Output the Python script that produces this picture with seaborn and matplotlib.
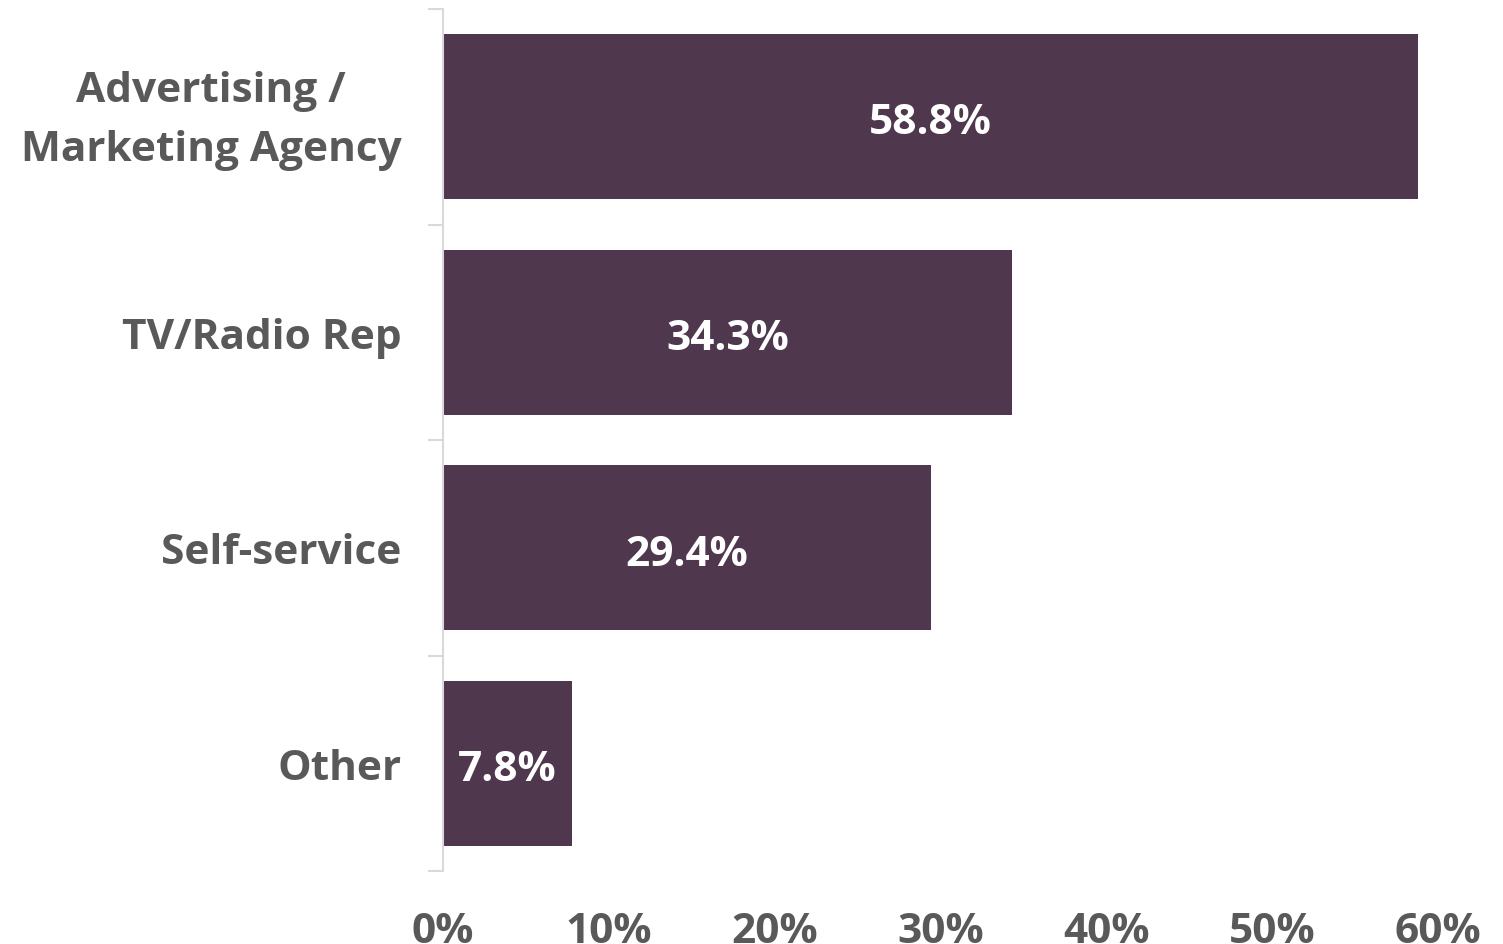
import matplotlib
matplotlib.use("Agg")
import matplotlib.pyplot as plt
from matplotlib.ticker import FixedLocator
from matplotlib.transforms import ScaledTranslation
import seaborn as sns
import pandas as pd

categories = ["Advertising /\nMarketing Agency", "TV/Radio Rep", "Self-service", "Other"]
shares = [58.8, 34.3, 29.4, 7.8]
x_ticks = [0, 10, 20, 30, 40, 50, 60]
x_tick_labels = ["0%", "10%", "20%", "30%", "40%", "50%", "60%"]

BAR_COLOR = "#4F374D"
TEXT_COLOR = "#595959"
AXIS_COLOR = "#D9D9D9"
FONT_SIZE = 30.5

sns.set_style("white")
plt.rcParams["font.family"] = ["Open Sans", "DejaVu Sans"]
plt.rcParams["font.weight"] = "bold"

df = pd.DataFrame({"category": categories, "share": shares})

fig = plt.figure(figsize=(15.03, 9.45), dpi=100)
ax = fig.add_axes([443 / 1503, 1 - 872 / 945, (1438 - 443) / 1503, (872 - 10) / 945])

sns.barplot(data=df, x="share", y="category", orient="h", color=BAR_COLOR,
            width=0.766, saturation=1, ax=ax, linewidth=0)

# value labels centred inside each bar
for patch, val in zip(ax.patches, shares):
    cx = patch.get_x() + patch.get_width() / 2
    cy = patch.get_y() + patch.get_height() / 2
    ax.annotate(f"{val:.1f}%", xy=(cx, cy), xytext=(0, -4.5), textcoords="offset points",
                ha="center", va="center", color="white",
                fontsize=FONT_SIZE, fontweight="bold")

ax.set_xlim(0, 60)
ax.set_ylim(len(categories) - 0.5, -0.5)
ax.set_xlabel("")
ax.set_ylabel("")

ax.set_xticks(x_ticks)
ax.set_xticklabels(x_tick_labels, fontsize=FONT_SIZE, fontweight="bold", color=TEXT_COLOR)
ax.tick_params(axis="x", length=0, pad=29)

ax.set_yticks(range(len(categories)))
ax.set_yticklabels(categories, fontsize=FONT_SIZE, fontweight="bold", color=TEXT_COLOR,
                   multialignment="center", linespacing=1.56)
ax.tick_params(axis="y", which="major", length=0, pad=30)
ax.yaxis.set_minor_locator(FixedLocator([i - 0.5 for i in range(len(categories) + 1)]))
ax.tick_params(axis="y", which="minor", length=11, width=1.5, color=AXIS_COLOR, left=True)

# two-line labels: centre the text block on the bar rather than its descent box
for lbl in ax.get_yticklabels():
    if "\n" in lbl.get_text():
        lbl.set_transform(lbl.get_transform()
                          + ScaledTranslation(0, 7.5 / 72, fig.dpi_scale_trans))

for side in ["top", "right", "bottom"]:
    ax.spines[side].set_visible(False)
ax.spines["left"].set_color(AXIS_COLOR)
ax.spines["left"].set_linewidth(1.5)
ax.spines["left"].set_zorder(5)

fig.savefig("out.png", dpi=100, facecolor="white")
